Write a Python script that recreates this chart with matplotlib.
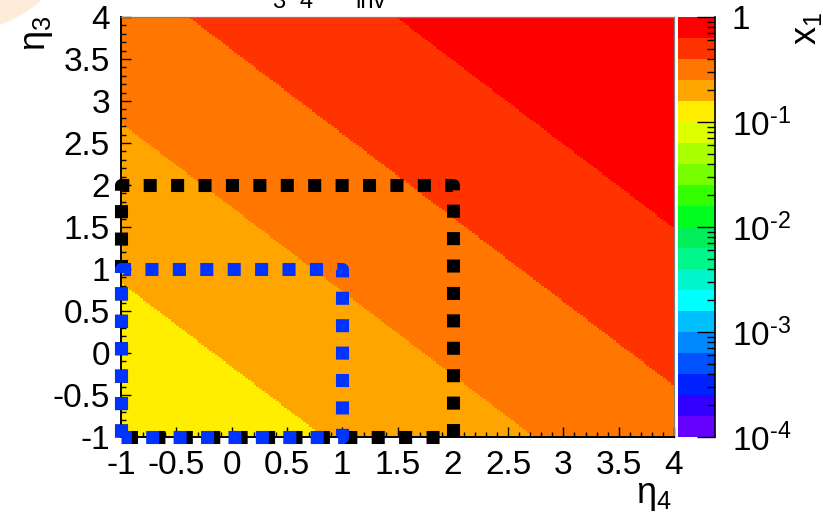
import numpy as np
import matplotlib
matplotlib.use("Agg")
import matplotlib.pyplot as plt
from matplotlib.colors import ListedColormap, LogNorm
from matplotlib.patches import Ellipse
from matplotlib.ticker import MultipleLocator, FuncFormatter, LogLocator, NullFormatter

plt.rcParams["font.family"] = ["Liberation Sans", "DejaVu Sans"]
plt.rcParams["mathtext.fontset"] = "custom"
plt.rcParams["mathtext.rm"] = "Liberation Sans"
plt.rcParams["mathtext.it"] = "Liberation Sans:italic"
plt.rcParams["mathtext.default"] = "regular"
plt.rcParams["axes.unicode_minus"] = False

# --- binning of the (eta4, eta3) plane ---
eta_min, eta_max = -1.0, 4.0
n_bins = 200

# x1 depends on eta3 + eta4 only: log10(x1) = offset + slope * (eta3 + eta4)
log_x1_offset = -0.784
log_x1_slope = 0.1062

# colour palette: 20 steps from 1e-4 (violet) to 1 (red)
palette = [
    "#6600ff", "#3300ff", "#0022ff", "#0052ff", "#0088ff",
    "#00bfff", "#00ffff", "#00f5cc", "#00f58a", "#00ee5a",
    "#00ff1e", "#33ff00", "#77ff00", "#aaff00", "#ddff00",
    "#ffee00", "#ffa500", "#ff7700", "#ff3300", "#ff0000",
]
z_min, z_max = 1e-4, 1.0
cbar_ticks = [1e-4, 1e-3, 1e-2, 1e-1, 1.0]
cbar_labels = [r"$10^{\text{-4}}$", r"$10^{\text{-3}}$", r"$10^{\text{-2}}$",
               r"$10^{\text{-1}}$", "1"]

# acceptance boxes in (eta4, eta3)
box_black_x = [-1, -1, 2, 2, -1]
box_black_y = [-1, 2, 2, -1, -1]
box_blue_x = [-1, -1, 1, 1, -1]
box_blue_y = [-1, 1, 1, -1, -1]

# title pieces: (main symbol, subscript)
title_symbols = ["η", "η", "M"]
title_subscripts = ["3", "4", "inv"]

# --- figure ---
W, H = 823, 519
fig = plt.figure(figsize=(W / 100, H / 100), dpi=100)
fig.patch.set_facecolor("white")

# soft peach corner decoration
fig.patches.append(Ellipse((-46 / W, 1 + 100 / H), 2 * 133 / W, 2 * 133 / H,
                           transform=fig.transFigure, facecolor="#fcecd9",
                           edgecolor="none", zorder=0))

ax = fig.add_axes([121 / W, 1 - 437 / H, (674 - 121) / W, (437 - 17) / H])
cax = fig.add_axes([678 / W, 1 - 437 / H, (715 - 678) / W, (437 - 17) / H])

edges = np.linspace(eta_min, eta_max, n_bins + 1)
centers = 0.5 * (edges[:-1] + edges[1:])
e4, e3 = np.meshgrid(centers, centers)
x1 = 10 ** (log_x1_offset + log_x1_slope * (e3 + e4))

cmap = ListedColormap(palette)
cmap.set_over(palette[-1])
cmap.set_under(palette[0])
norm = LogNorm(vmin=z_min, vmax=z_max)
mesh = ax.pcolormesh(edges, edges, x1, cmap=cmap, norm=norm, shading="flat",
                     rasterized=True)

ax.set_xlim(eta_min, eta_max)
ax.set_ylim(eta_min, eta_max)

fmt = FuncFormatter(lambda v, p: f"{v:g}")
for axis in (ax.xaxis, ax.yaxis):
    axis.set_major_locator(MultipleLocator(0.5))
    axis.set_minor_locator(MultipleLocator(0.1))
    axis.set_major_formatter(fmt)
ax.tick_params(which="both", direction="in", color="black", width=1,
               labelsize=24, top=False, right=False)
ax.tick_params(which="major", length=7.5)
ax.tick_params(which="minor", length=3.8)
ax.tick_params(axis="x", pad=9)
ax.tick_params(axis="y", pad=8)
for s in ("left", "bottom"):
    ax.spines[s].set_color("black")
    ax.spines[s].set_linewidth(1.4)
for s in ("top", "right"):
    ax.spines[s].set_color("#808080")
    ax.spines[s].set_linewidth(0.9)

# dotted acceptance boxes
lw = 9.4
ax.plot(box_black_x, box_black_y, color="black", lw=lw, clip_on=False,
        linestyle=(0, (1.0, 1.1)), dash_capstyle="butt", zorder=5)
ax.plot(box_blue_x, box_blue_y, color="#0033ff", lw=lw, clip_on=False,
        linestyle=(0, (1.0, 1.1)), dash_capstyle="butt", zorder=6)

# axis titles
fig.text(672 / W, 1 - 478 / H, r"$\eta_4$", fontsize=26, ha="right", va="top")
fig.text(20 / W, 1 - 16 / H, r"$\eta_3$", fontsize=26, ha="left", va="top",
         rotation=90)

# title, running past the top edge of the canvas
sym_x = [258, 286, 326]
sub_x = [272, 300, 355]
for sx, sym in zip(sym_x, title_symbols):
    fig.text(sx / W, 1 + 10 / H, sym, fontsize=24, ha="left", va="baseline")
for sx, sub in zip(sub_x, title_subscripts):
    fig.text(sx / W, 1 - 8 / H, sub, fontsize=17, ha="left", va="baseline")

# colour scale
cb = fig.colorbar(mesh, cax=cax, extend="neither")
cb.outline.set_visible(False)
cax.yaxis.set_ticks_position("right")
cax.set_yticks(cbar_ticks)
cax.set_yticklabels(cbar_labels)
cax.yaxis.set_minor_locator(LogLocator(base=10, subs=np.arange(2, 10), numticks=20))
cax.yaxis.set_minor_formatter(NullFormatter())
cax.tick_params(which="both", direction="in", color="black", width=1,
                labelsize=24, pad=12)
cax.tick_params(which="major", length=13)
cax.tick_params(which="minor", length=6)
cax.plot([1, 1], [0, 1], transform=cax.transAxes, color="black", lw=1.2,
         clip_on=False)
fig.text(789 / W, 1 - 12 / H, r"$x_1$", fontsize=26, ha="left", va="top",
         rotation=90)

fig.savefig("out.png", dpi=100)
